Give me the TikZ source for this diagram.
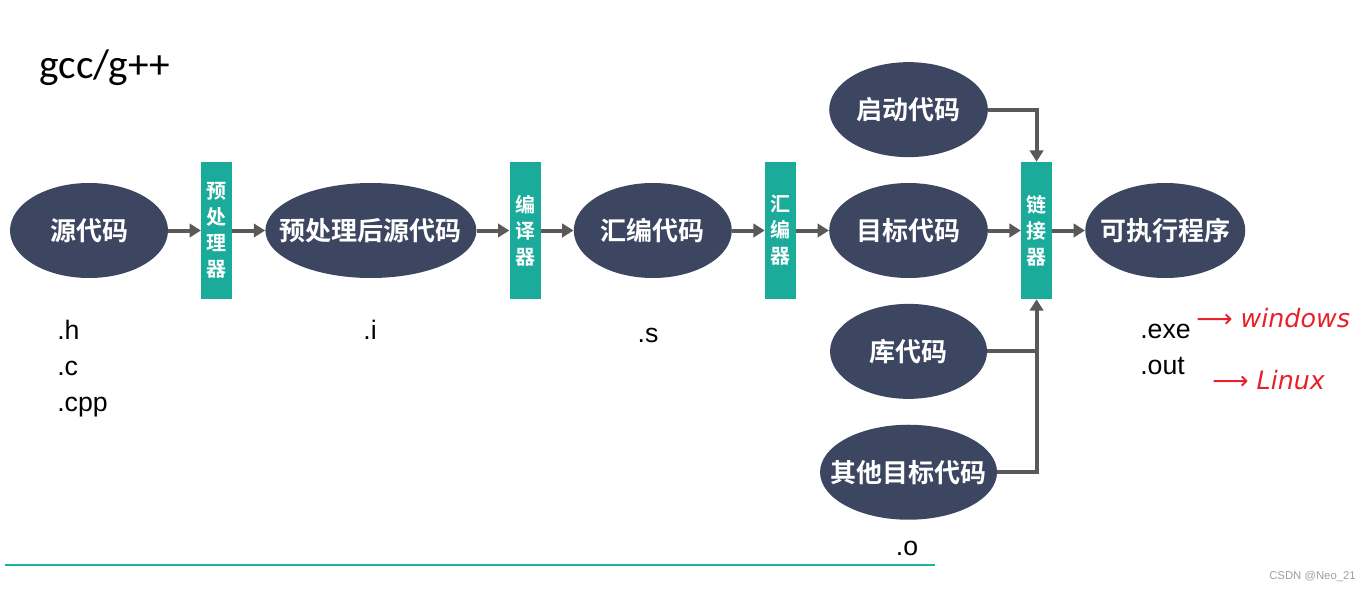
\documentclass[tikz,border=0pt]{standalone}
\usepackage{fontspec}
\setmainfont{Liberation Sans}
\newfontfamily\cjk{Noto Sans CJK SC}[BoldFont={Noto Sans CJK SC Bold}]
\newfontfamily\slidefont{Carlito}
\newfontfamily\inkfont{DejaVu Sans}
\usetikzlibrary{shapes.geometric, arrows.meta, positioning}
\definecolor{slate}{HTML}{3C4660}
\definecolor{tealbar}{HTML}{1AAB9B}
\definecolor{arrgray}{HTML}{595959}
\definecolor{rulecol}{HTML}{14B89A}
\definecolor{inkred}{HTML}{E8202A}

\begin{document}
\begin{tikzpicture}[
  x=0.75pt, y=-0.75pt,
  node distance=24.5pt,
  %% box styles
  code/.style={
    ellipse, fill=slate, text=white,
    inner xsep=-25pt, inner ysep=0pt,
    minimum width=118.5pt, minimum height=71.25pt,
    font=\cjk\bfseries\fontsize{19.5}{22}\selectfont},
  tool/.style={
    rectangle, fill=tealbar, text=white, inner sep=0pt,
    minimum width=23.25pt, minimum height=102.75pt, align=center,
    font=\cjk\bfseries\fontsize{15}{19.5}\selectfont},
  link/.style={line width=3pt, arrgray},
  arr/.style={link, -{Triangle[length=8.5pt,width=10pt]}},
  ext/.style={font=\fontsize{20}{27}\selectfont, align=left, inner sep=0pt},
  note/.style={text=inkred, font=\inkfont\itshape\fontsize{19}{24}\selectfont, inner sep=0pt}
]
\useasboundingbox (0,0) rectangle (1369,592);

%% ── Title ────────────────────────────────────────────────────────────────
\node[anchor=base west, inner sep=0pt, font=\slidefont\fontsize{31}{36}\selectfont]
  (title) at (39,79) {gcc/g++};

%% ── Main row: source -> executable ───────────────────────────────────────
\node[code] (src) at (89,230.5) {源代码};
\node[tool, right=of src] (pre) {预\\处\\理\\器};
\node[code, right=of pre, minimum width=158.25pt] (presrc) {预处理后源代码};
\node[tool, right=of presrc] (cc) {编\\译\\器};
\node[code, right=of cc] (asm) {汇编代码};
\node[tool, right=of asm] (as) {汇\\编\\器};
\node[code, right=of as, minimum width=119pt] (obj) {目标代码};
\node[tool, right=of obj] (ld) {链\\接\\器};
\node[code, right=of ld, minimum width=120pt] (exe) {可执行程序};

%% ── Extra linker inputs ──────────────────────────────────────────────────
\node[code, above=19pt of obj, minimum width=119pt] (crt) {启动代码};
\node[code, below=19pt of obj, minimum width=117.75pt] (lib) {库代码};
\node[code, below=19pt of lib, minimum width=132.75pt] (other) {其他目标代码};

%% ── File suffixes ────────────────────────────────────────────────────────
\node[ext, anchor=north west] (srcext) at (57,320) {.h\\.c\\.cpp};
\node[ext, anchor=north] (iext) at (370,320) {.i};
\node[ext, anchor=base] (sext) at (648,342) {.s};
\node[ext, anchor=base] (oext) at (907,555) {.o};
\node[ext, anchor=north west] (exeext) at (1140,324) {.exe\\.out};

%% handwritten notes
\node[note, anchor=west] (win) at (1196,318) {⟶ windows};
\node[note, anchor=west] (lnx) at (1212,380) {⟶ Linux};

%% watermark
\node[anchor=east, inner sep=0pt, text=gray!75, font=\fontsize{8.5}{10}\selectfont]
  (mark) at (1356,577) {CSDN @Neo\_21};

%% bottom rule
\draw[rulecol, line width=1.1pt] (5,565) -- (935,565);

%% ──────────────────────── Arrows ─────────────────────────────────────────
\draw[arr] (src)    -- (pre);
\draw[arr] (pre)    -- (presrc);
\draw[arr] (presrc) -- (cc);
\draw[arr] (cc)     -- (asm);
\draw[arr] (asm)    -- (as);
\draw[arr] (as)     -- (obj);
\draw[arr] (obj)    -- (ld);
\draw[arr] (ld)     -- (exe);

%% linker inputs from above and below
\draw[arr] (crt.east) -| (ld.north);
\draw[arr] (other.east) -| (ld.south);
\draw[link] (lib.east) -- (lib.east -| ld.south);

\end{tikzpicture}
\end{document}
